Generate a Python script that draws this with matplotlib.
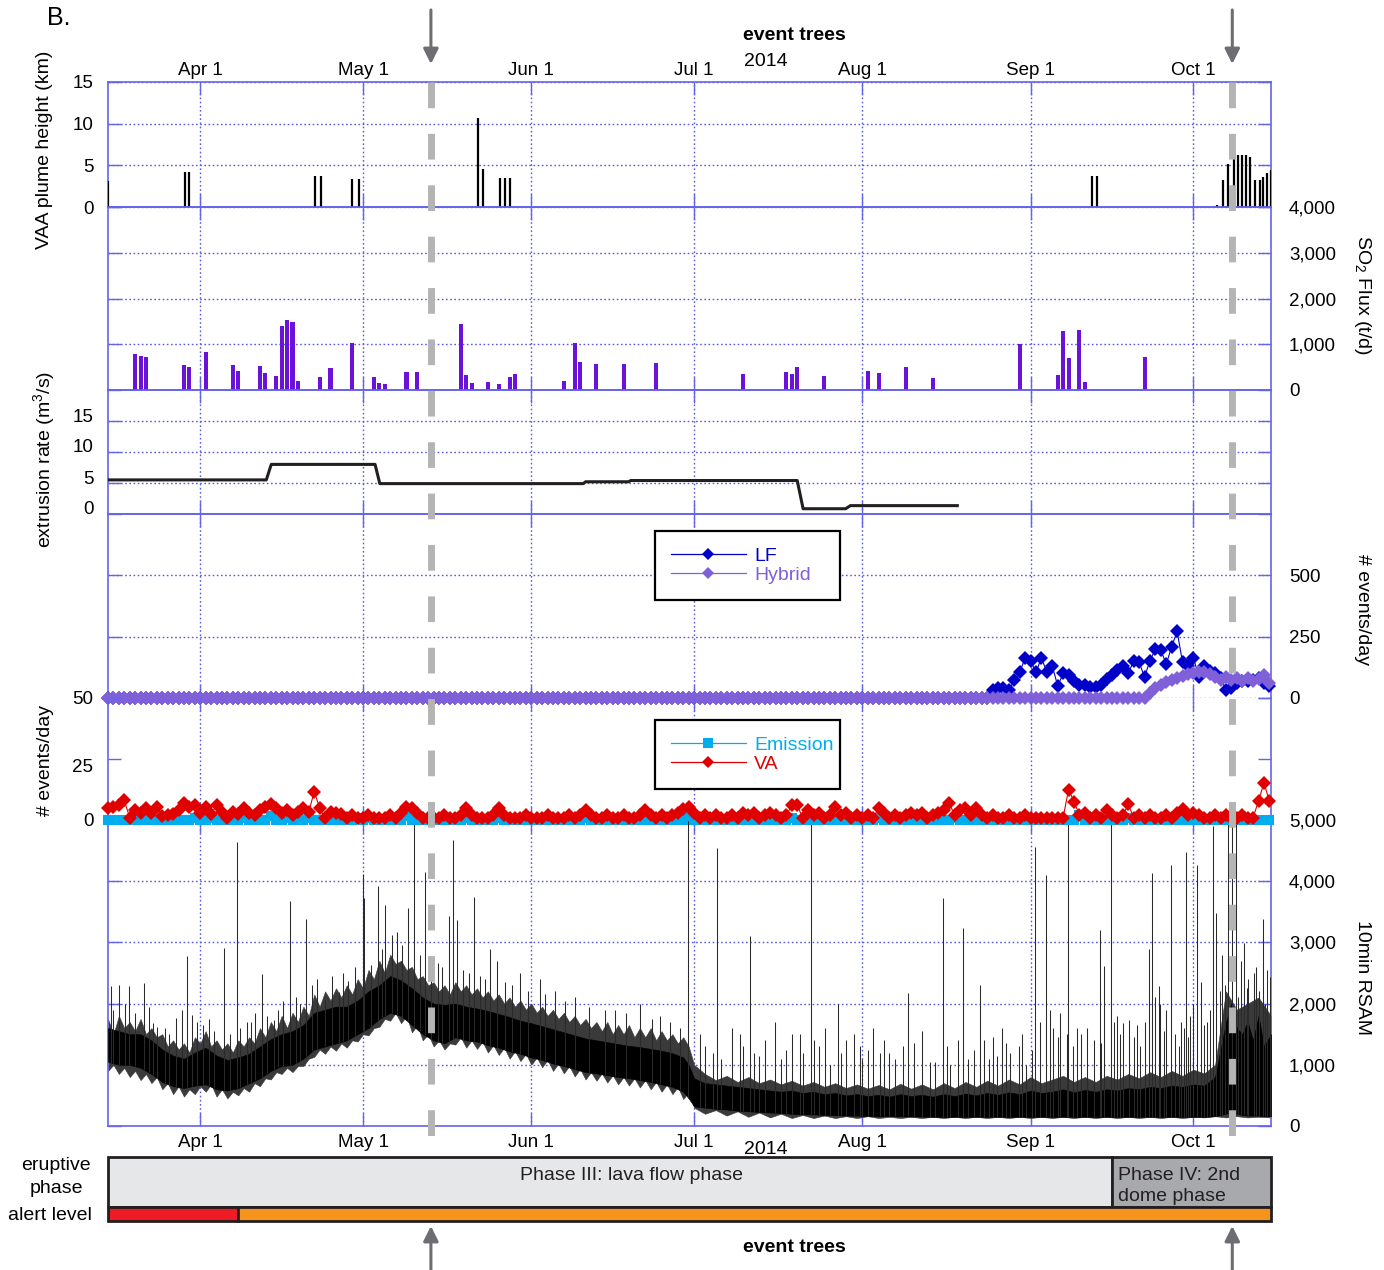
import matplotlib
matplotlib.use("Agg")
import matplotlib.pyplot as plt
import matplotlib.dates as mdates
import matplotlib.transforms as mtrans
from matplotlib.lines import Line2D
from matplotlib.patches import Rectangle
from matplotlib.ticker import FuncFormatter
import numpy as np
import pandas as pd

plt.rcParams["font.family"] = ["Liberation Sans", "DejaVu Sans"]
plt.rcParams["mathtext.fontset"] = "custom"
plt.rcParams["mathtext.rm"] = "Liberation Sans"

# ---------------------------------------------------------------- data
START = "2014-03-15"
N_DAYS = 215

# VAA plume heights (km)
vaa_times = ["2014-03-15 02:00", "2014-03-29 05:00", "2014-03-29 23:00",
             "2014-04-22 02:00", "2014-04-23 07:00", "2014-04-29 00:00",
             "2014-04-30 05:00", "2014-05-22 05:00", "2014-05-23 02:00",
             "2014-05-26 07:00", "2014-05-27 05:00", "2014-05-28 02:00",
             "2014-09-12 07:00", "2014-09-13 05:00", "2014-10-05 10:00",
             "2014-10-06 10:00", "2014-10-07 07:00", "2014-10-08 10:00",
             "2014-10-09 05:00", "2014-10-10 00:00", "2014-10-10 17:00",
             "2014-10-11 12:00", "2014-10-12 10:00", "2014-10-13 05:00",
             "2014-10-13 19:00", "2014-10-14 14:00", "2014-10-15 05:00"]
vaa_km = [3.1, 4.2, 4.2, 3.7, 3.7, 3.4, 3.4, 10.7, 4.6, 3.5, 3.5, 3.5,
          3.7, 3.7, 0.2, 3.2, 5.2, 6.1, 6.2, 6.2, 6.2, 6.0, 3.2, 3.2,
          3.6, 4.1, 4.4]

# SO2 flux (t/d)
so2_dates = ["03-20", "03-21", "03-22", "03-29", "03-30", "04-02", "04-07",
             "04-08", "04-12", "04-13", "04-15", "04-16", "04-17", "04-18",
             "04-19", "04-23", "04-25", "04-29", "05-03", "05-04", "05-05",
             "05-09", "05-11", "05-19", "05-20", "05-21", "05-24", "05-26",
             "05-28", "05-29", "06-07", "06-09", "06-10", "06-13", "06-18",
             "06-24", "07-10", "07-18", "07-19", "07-20", "07-25", "08-02",
             "08-04", "08-09", "08-14", "08-30", "09-06", "09-07", "09-08",
             "09-10", "09-11", "09-22"]
so2_flux = [787, 750, 728, 546, 496, 838, 540, 422, 525, 364, 313, 1399,
            1530, 1494, 204, 291, 481, 1020, 277, 153, 131, 386, 386, 1449,
            333, 145, 181, 123, 275, 348, 188, 1022, 609, 558, 558, 587,
            355, 391, 348, 493, 304, 420, 370, 500, 254, 998, 328, 1290,
            692, 1311, 182, 714]

# extrusion rate (m3/s)
extr_times = ["2014-03-15", "2014-04-13 04:00", "2014-04-14 02:00",
              "2014-05-03 05:00", "2014-05-04 02:00", "2014-06-10 14:00",
              "2014-06-11 00:00", "2014-06-18 22:00", "2014-06-19 08:00",
              "2014-07-20 00:00", "2014-07-21 02:00", "2014-07-28 22:00",
              "2014-07-29 19:00", "2014-08-18 12:00"]
extr_rate = [5.5, 5.5, 8.0, 8.0, 4.9, 4.9, 5.2, 5.2, 5.4, 5.4, 0.85, 0.85,
             1.35, 1.35]

# LF / Hybrid events per day (daily from START)
lf_tail = [34, 41, 41, 34, 72, 104, 165, 152, 104, 165, 104, 131, 49, 100,
           94, 70, 53, 53, 45, 45,
           53, 77, 94, 113, 131, 100, 152, 145, 86, 152, 200, 195, 138, 209,
           272, 145, 131, 165, 86, 131, 110, 100, 80, 34, 41, 60, 70, 70,
           75, 80, 60, 50]
lf_daily = [0] * (N_DAYS - len(lf_tail)) + lf_tail
hybrid_tail = [0, 20, 40, 55, 66, 74, 80, 88, 96, 102, 104, 104, 97, 84,
               72, 84, 72, 80, 70, 80, 70, 78, 92, 60]
hybrid_daily = [0] * (N_DAYS - len(hybrid_tail)) + hybrid_tail

# VA events per day (daily from START)
va_daily = [4.8, 5.5, 6, 8, 1, 4, 3, 5, 3, 5.5, 1.5, 2, 2.3, 4, 7, 5.5, 6,
            3, 5.5, 2.3, 6, 3.4, 1, 3.4, 2.3, 4.8, 3, 2, 4, 5.5, 6.4, 4.8,
            3, 4, 2, 3.4, 4.8, 3.4, 11.6, 5, 0.7, 3.4, 3, 2.3,
            1, 2, 1, 1, 2, 1, 1, 1, 2, 1,
            3, 5.5, 5, 3, 1, 1, 1, 1, 2, 1,
            1, 2, 4.8, 2, 1, 1, 1, 2, 4.8, 2,
            1, 1, 1, 2, 1, 1, 1, 2, 1, 1,
            1, 2, 1, 2, 4, 2, 1, 1, 2, 1,
            1, 2, 1, 1, 2, 4, 2, 1, 2, 1,
            2, 3, 4.5, 5.5, 3, 1, 2, 1, 2, 1,
            1, 2, 1, 3, 2, 3, 1, 2, 3, 2,
            1, 2, 6, 6, 1, 4, 2, 3, 1, 2,
            5.5, 2, 3, 1, 2, 1, 2, 1, 4.8, 3,
            1, 2, 1, 2, 3, 2, 3, 1, 2, 3,
            4, 7, 2, 4, 5, 2, 5, 2, 1, 2,
            1, 1, 2, 1, 1, 2, 1, 1, 1, 1,
            1, 1, 1, 12.5, 7.5, 2, 3, 1, 2, 1,
            4, 2, 1, 2, 6.4, 1, 2, 1, 2, 1,
            1, 2, 1, 3, 4.4, 2, 3, 2, 1, 1,
            2, 1, 2, 1, 1, 2, 1, 1, 7.8, 15.2, 7.8]

# Emission events per day: zero except these days
emission_days = [16, 19, 25, 30, 33, 35, 37, 46, 48, 55, 66, 72, 88, 107,
                 126, 142, 156, 179, 188, 199]
emission_vals = [1, 1, 1, 1.5, 1, 1, 1, 1, 1, 1.5, 1, 1, 1, 1.5, 1, 1, 1,
                 2, 1, 1]

# 10-min RSAM: dense core of the band (day offset from START)
rsam_day = [0, 2, 4, 6, 8, 10, 12, 14, 16, 18, 20, 22, 24, 26, 28, 30, 32,
            34, 36, 38, 40, 42, 44, 46, 48, 50, 52, 54, 56, 58, 60, 62, 64,
            66, 68, 70, 72, 74, 76, 78, 80, 82, 84, 86, 88, 90, 92, 94, 96,
            98, 100, 102, 104, 106, 107, 108, 110, 112, 114, 116, 118, 120,
            122, 124, 126, 128, 130, 132, 134, 136, 138, 140, 142, 144, 146,
            148, 150, 152, 154, 156, 158, 160, 162, 164, 166, 168, 170, 172,
            174, 176, 178, 180, 182, 184, 186, 188, 190, 192, 194, 196, 198,
            200, 202, 204, 206, 207, 208, 209, 210, 211, 212, 213, 214.3]
rsam_lo = [1050, 1000, 1000, 950, 850, 720, 650, 620, 660, 680, 600, 580,
           620, 700, 780, 900, 980, 1000, 1100, 1250, 1300, 1350, 1400, 1500,
           1600, 1750, 1850, 1800, 1650, 1500, 1400, 1350, 1450, 1400, 1380,
           1320, 1280, 1220, 1180, 1120, 1080, 1020, 980, 930, 880, 860, 830,
           800, 780, 750, 720, 680, 640, 560, 450, 320, 300, 280, 270, 250,
           240, 230, 220, 210, 200, 190, 190, 180, 180, 170, 170, 165, 160,
           160, 160, 155, 155, 150, 150, 150, 150, 150, 150, 150, 150, 150,
           150, 150, 150, 150, 150, 150, 150, 150, 150, 150, 150, 150, 150,
           150, 150, 150, 150, 160, 200, 250, 200, 180, 170, 170, 170, 160,
           160]
rsam_hi = [1600, 1550, 1500, 1500, 1400, 1250, 1150, 1100, 1200, 1280,
           1150, 1080, 1120, 1180, 1300, 1420, 1500, 1550, 1650, 1850, 1900,
           1950, 1950, 2050, 2200, 2300, 2450, 2380, 2250, 2100, 2000, 1980,
           2000, 1950, 1920, 1880, 1830, 1780, 1720, 1680, 1630, 1580, 1530,
           1480, 1430, 1400, 1370, 1340, 1310, 1290, 1260, 1230, 1190, 1120,
           1000, 780,
           700, 680, 660, 640, 620, 600, 580, 560, 580, 540,
           560, 520, 540, 500, 520, 490, 510, 480, 520, 490,
           510, 480, 520, 490, 530, 500, 540, 510, 550, 520,
           580, 540, 560, 600, 550, 590, 560, 600, 580, 620,
           600, 640, 620, 660, 640, 680, 660, 800,
           1700, 2000, 1600, 1500, 1700, 1400, 1800, 1300, 1500]

# RSAM ragged outer fringe of the band
fringe_day = list(range(0, 109)) + list(range(110, 214, 2)) + [214.3]
fringe_hi = [1750, 1500, 1800, 1600, 1700, 1550, 1750, 1500, 1600, 1450,
             1500, 1300, 1400, 1250, 1350, 1200, 1450, 1350, 1550, 1300,
             1400, 1250, 1350, 1200, 1400, 1300, 1450, 1350, 1600, 1450,
             1700, 1550, 1800, 1600, 1850, 1700, 1950, 1800, 2150, 1950,
             2200, 2050, 2250, 2100, 2300, 2150, 2400, 2250, 2550, 2400,
             2700, 2500, 2800, 2650, 2700, 2550, 2600, 2400, 2450, 2300,
             2350, 2200, 2300, 2150, 2350, 2200, 2300, 2150, 2250, 2100,
             2200, 2050, 2150, 2000, 2100, 1950, 2050, 1900, 2000, 1850,
             1950, 1800, 1900, 1750, 1850, 1700, 1800, 1650, 1750, 1600,
             1700, 1550, 1700, 1500, 1650, 1500, 1650, 1450, 1600, 1450,
             1600, 1400, 1550, 1400, 1500, 1350, 1450, 1300, 1000,
             850, 750, 820, 720, 800, 700, 760, 680, 740, 660,
             720, 640, 700, 620, 680, 610, 670, 600, 690, 610,
             680, 600, 700, 620, 720, 640, 740, 660, 760, 680,
             800, 700, 760, 820, 720, 800, 720, 820, 760, 850,
             780, 880, 800, 900, 820, 920, 860, 1000,
             2200, 1900, 2000, 2100, 1800]
fringe_lo = [900, 1000, 850, 950, 800, 900, 750, 850, 700, 800, 600, 700,
             520, 650, 480, 600, 520, 650, 560, 680, 480, 600, 450, 560, 500,
             620, 560, 700, 650, 780, 760, 880, 850, 950, 880, 980, 980, 1100,
             1130, 1250, 1180, 1300, 1230, 1350, 1280, 1400, 1380, 1500, 1480,
             1600, 1620, 1750, 1720, 1850, 1680, 1800, 1530, 1650, 1400, 1500,
             1300, 1400, 1250, 1350, 1330, 1450, 1280, 1400, 1260, 1380, 1200,
             1320, 1160, 1280, 1100, 1220, 1060, 1180, 1000, 1120, 960, 1080,
             900, 1020, 860, 980, 810, 930, 760, 880, 740, 860, 710, 830, 680,
             800, 660, 780, 630, 750, 600, 720, 560, 680, 520, 640, 440, 560,
             300,
             200, 260, 170, 240, 150, 220, 140, 200, 130, 180, 130, 170, 130,
             160, 130, 160, 130, 150, 130, 150, 130, 150, 130, 150, 130, 150,
             130, 150, 130, 150, 130, 150, 130, 150, 130, 150, 130, 150, 130,
             150, 130, 150, 130, 150, 130, 150, 140, 160, 140, 160, 140, 150,
             140]

# RSAM spikes (day offset, value)
spike_day = [0.55, 2.0, 3.9, 6.7, 8.2, 9.1, 12.5, 13.7, 14.6, 15.4, 16.4,
             21.3, 23.7, 25.6, 27.1, 28.4, 30.5, 33.5, 36.5, 40.0, 42.5,
             44.2, 46.9, 47.2, 48.5, 49.7, 51.1, 52.4, 53.3, 55.2, 56.3,
             56.4, 58.4, 60.8, 62.9, 63.5, 64.3, 67.5, 70.4, 71.7, 75.9,
             79.6, 82.4, 86.1, 91.6, 98.1, 101.8, 106.9, 109.1, 110, 112.3,
             113, 115, 116.5, 118.3, 119, 121, 122.9, 124, 126, 127.6, 128,
             129.6, 131, 132.2, 133, 134.6, 136, 138.6, 139, 141, 142.3, 144,
             146.5, 147.5, 151.5, 152.4, 153.8, 155.2, 156.7, 157.6, 158.5,
             160.6, 161.5, 162.4, 163.8, 164.7, 166.2, 167.8, 169.2, 170.9,
             171.8, 172.8, 173.6, 174.2, 175.5, 176.7, 176.9, 177.9, 179.2,
             180.4, 181.6, 182.7, 183.6, 184.8, 185.3, 185.9, 187.0, 188.2,
             189.0, 190.2, 191.1, 191.8, 192.3, 193.0, 193.7, 193.9, 195.0,
             195.8, 196.7, 197.3, 198.2, 198.7, 199.4, 200.0, 200.7, 201.4,
             202.5, 203.7, 204.2, 204.9, 205.3, 206.3, 207.2, 207.9, 208.7,
             209.3, 210.1, 211.1, 212.0, 212.8, 213.6, 214.1,
             1, 3.2, 5, 7.5, 10.5, 11.3, 17.5, 18.6, 19.5, 22.4, 24.3, 26.4,
             29.3, 31.4, 32.3, 34.6, 35.4, 37.6, 38.5, 41.2, 43.3, 45.5, 50.4,
             54.2, 57.4, 59.5, 61.5, 65.5, 66.6, 68.6, 69.5, 73.2, 74.5, 77.3,
             80.5, 84.3, 88.6, 93.4, 95.5, 100.3, 103.6, 105.4,
             111.5, 117, 120, 125, 130, 135, 137.5, 140, 143, 145, 148.5, 150,
             154.6, 159.5, 163, 165.5, 168.5, 170.2, 175, 178.5, 183, 186.5,
             189.6, 194.5, 197.8, 199, 202, 203, 205.8, 208.3, 209.8, 211.6,
             213.2]
spike_val = [2290, 2300, 2280, 2330, 1680, 1620, 1760, 1900, 2780, 1810,
             1700, 2910, 4640, 1700, 1850, 2490, 1730, 3670, 3390, 2060, 2190,
             2370, 4110, 3720, 2630, 3920, 3610, 3120, 3170, 3560, 4950, 2600,
             4150, 2660, 3430, 4670, 3370, 3750, 2900, 2700, 2500, 2400, 2200,
             2100, 1900, 2000, 1800, 5000, 1500, 1300, 4550, 1100, 1600, 1500,
             3100, 1200, 1400, 1700, 1100, 1500, 1500, 1200, 5000, 1300, 1600,
             1000, 2000, 1400, 1300, 1100, 1600, 1200, 1200, 1300, 2180, 1050,
             1050, 3720, 1000, 1400, 3230, 1100, 2300, 1400, 1100, 1150, 1600,
             1200, 1310, 1000, 4560, 1700, 4100, 1900, 1600, 1840, 1500, 5000,
             1300, 1500, 1600, 1400, 3200, 2620, 5000, 1700, 1800, 1680, 1730,
             1450, 1300, 1700, 2890, 4140, 2100, 2280, 2000, 1900, 4260, 1500,
             1300, 1600, 4470, 1800, 2000, 4260, 2360, 1700, 4900, 3480, 2200,
             2800, 5000, 5000, 5000, 2700, 2990, 2400, 2500, 2200, 3380, 2550,
             2440,
             1900, 2000, 1850, 1950, 1600, 1500, 1650, 1750, 1550, 1500, 1600,
             1700, 1800, 1900, 2050, 2100, 2000, 2300, 2400, 2450, 2500, 2600,
             2900, 2950, 2800, 2700, 2600, 2550, 2500, 2450, 2400, 2350, 2300,
             2200, 2150, 2050, 1950, 1900, 1850, 1750, 1700, 1600,
             1200, 1300, 1150, 1250, 1400, 1200, 1500, 1250, 1400, 1100, 1350,
             1550, 1300, 1250, 1450, 1350, 1500, 1250, 1450, 1600, 1350, 1500,
             1650, 1550, 1700, 1450, 1650, 1900, 2300, 2100, 2250, 2600, 2000]

event_tree_times = ["2014-05-13 12:00", "2014-10-08 04:00"]

phase_labels = ["Phase III: lava flow phase", "Phase IV: 2nd\ndome phase"]
phase_starts = ["2014-03-15", "2014-09-16"]
phase_colors = ["#e6e7e8", "#a7a9ac"]
alert_starts = ["2014-03-15", "2014-04-08"]
alert_colors = ["#ed1c24", "#f7941d"]

# ---------------------------------------------------------------- setup
W, H = 1384, 1270
L, R = 108, 1271
BLUE = "#6464ea"
GRID = "#5a5ae8"
EDGE = "#231f20"
FS = 14
TFS = 13.5

t0 = mdates.date2num(pd.Timestamp(START))
x_lo, x_hi = t0, t0 + 214.3
days = t0 + np.arange(N_DAYS)


def tnum(s):
    return mdates.date2num(pd.to_datetime(s))


def fx(px):
    return px / W


def fy(py):
    return 1 - py / H


fig = plt.figure(figsize=(W / 100, H / 100), dpi=100, facecolor="white")


def panel(top, bot, ylim, yticks, side, ygrid=True, top_sp=True, bot_sp=True,
          fmt=None):
    ax = fig.add_axes([fx(L), fy(bot), (R - L) / W, (bot - top) / H])
    ax.set_xlim(x_lo, x_hi)
    ax.set_ylim(*ylim)
    ax.set_yticks(yticks)
    ax.xaxis.set_major_locator(mdates.MonthLocator())
    ax.xaxis.set_major_formatter(mdates.DateFormatter("%b 1"))
    ax.tick_params(direction="in", length=9.5, width=1.0, color=BLUE,
                   labelsize=TFS, top=True, bottom=True, left=True, right=True,
                   labelbottom=False, labeltop=False,
                   labelleft=(side == "left"), labelright=(side == "right"))
    ax.tick_params(axis="y", pad=10.5 if side == "left" else 13)
    ax.grid(axis="x", color=GRID, lw=1.0, ls=(0, (1.2, 1.8)))
    if ygrid:
        ax.grid(axis="y", color=GRID, lw=1.0, ls=(0, (1.2, 1.8)))
    ax.set_axisbelow(True)
    for s in ax.spines.values():
        s.set_color(BLUE)
        s.set_linewidth(1.2)
    ax.spines["top"].set_visible(top_sp)
    ax.spines["bottom"].set_visible(bot_sp)
    ax.patch.set_visible(False)
    if fmt is not None:
        ax.yaxis.set_major_formatter(fmt)
    return ax


comma = FuncFormatter(lambda v, p: f"{int(v):,}")

ax_vaa = panel(82, 207, (0, 15), [0, 5, 10, 15], "left")
ax_so2 = panel(207, 390, (0, 4000), [0, 1000, 2000, 3000, 4000], "right",
               fmt=comma)
ax_ext = panel(390, 514, (0, 20), [0, 5, 10, 15], "left")
ax_lf = panel(514, 698, (0, 750), [0, 250, 500], "right", bot_sp=False)
ax_rsam = panel(820, 1126, (0, 5000), [0, 1000, 2000, 3000, 4000, 5000],
                "right", fmt=comma)
ax_va = panel(698, 820, (0, 50), [0, 25, 50], "left", ygrid=False,
              top_sp=False, bot_sp=False)
ax_lf.set_zorder(4)
ax_va.set_zorder(5)

ax_vaa.tick_params(axis="x", labeltop=True, pad=2)
ax_rsam.tick_params(axis="x", labelbottom=True, pad=6)

# extrusion tick labels sit a little above their grid lines,
# the middle VA label a little below its tick
lift = mtrans.ScaledTranslation(0, 0.06, fig.dpi_scale_trans)
for lab in ax_ext.get_yticklabels():
    lab.set_transform(lab.get_transform() + lift)
drop = mtrans.ScaledTranslation(0, -0.07, fig.dpi_scale_trans)
mid = ax_va.get_yticklabels()[1]
mid.set_transform(mid.get_transform() + drop)

# VAA plume heights
ax_vaa.vlines([tnum(t) for t in vaa_times], 0, vaa_km, color="black",
              lw=1.6, zorder=3)

# SO2 flux
ax_so2.bar([tnum("2014-" + d) for d in so2_dates], so2_flux, width=0.75,
           color="#6a12d8", zorder=3)

# extrusion rate
ax_ext.plot([tnum(t) for t in extr_times], extr_rate, color=EDGE, lw=2.2,
            zorder=3)

# LF / hybrid
LF_C, HY_C = "#0000c8", "#8060d8"
MS = 7.2
ax_lf.plot(days, lf_daily, color=LF_C, lw=0.8, marker="D", ms=MS, mew=0,
           clip_on=False, zorder=3)
ax_lf.plot(days, hybrid_daily, color=HY_C, lw=0.8, marker="D", ms=MS, mew=0,
           clip_on=False, zorder=4)

# emission / VA
EM_C, VA_C = "#00aeef", "#e00000"
emission_daily = np.zeros(N_DAYS)
emission_daily[emission_days] = emission_vals
ax_va.plot(days, emission_daily, color=EM_C, lw=1.0, marker="s", ms=7,
           mew=0, clip_on=False, zorder=3)
ax_va.plot(days, va_daily, color=VA_C, lw=0.8, marker="D", ms=MS, mew=0,
           clip_on=False, zorder=4)

# RSAM
fd = t0 + np.array(fringe_day, dtype=float)
ax_rsam.fill_between(fd, fringe_lo, fringe_hi, color="#3a3a3a", lw=0.4,
                     zorder=2.5)
rd = t0 + np.array(rsam_day)
ax_rsam.fill_between(rd, rsam_lo, rsam_hi, color="black", lw=0.4, zorder=3)
sd = np.array(spike_day)
ax_rsam.vlines(t0 + sd, np.interp(sd, rsam_day, rsam_lo), spike_val,
               color="#2a2a2a", lw=0.75, zorder=3)

# legends
leg_kw = dict(loc="center", mode="expand", fontsize=FS, frameon=True,
              fancybox=False, framealpha=1, edgecolor="black",
              borderpad=0.8, handlelength=3.9, handletextpad=0.4,
              labelspacing=0.1, borderaxespad=0, labelcolor="linecolor")
leg1 = fig.legend(handles=[
    Line2D([], [], color=LF_C, lw=0.9, marker="D", ms=6.5, mew=0, label="LF"),
    Line2D([], [], color=HY_C, lw=0.9, marker="D", ms=6.5, mew=0,
           label="Hybrid")],
    bbox_to_anchor=(fx(655), fy(603), 185 / W, 75 / H), **leg_kw)
leg1.get_frame().set_linewidth(1.6)
leg2 = fig.legend(handles=[
    Line2D([], [], color=EM_C, lw=0.9, marker="s", ms=6.5, mew=0,
           label="Emission"),
    Line2D([], [], color=VA_C, lw=0.9, marker="D", ms=6.5, mew=0,
           label="VA")],
    bbox_to_anchor=(fx(655), fy(793), 185 / W, 77 / H), **leg_kw)
leg2.get_frame().set_linewidth(1.6)

# event-tree markers (overlay in pixel y units)
ov = fig.add_axes([fx(L), 0, (R - L) / W, 1])
ov.set_xlim(x_lo, x_hi)
ov.set_ylim(H, 0)
ov.axis("off")
ov.set_zorder(10)
arrow = dict(arrowstyle="-|>,head_length=0.9,head_width=0.45",
             color="#6d6e71", lw=2.2, shrinkA=0, shrinkB=0)
for t in event_tree_times:
    x = tnum(t)
    ov.plot([x, x], [82, 1140], color="#b4b4b4", lw=5, dashes=(3.7, 3.7),
            dash_capstyle="butt", solid_capstyle="butt")
    ov.annotate("", xy=(x, 64), xytext=(x, 10), annotation_clip=False,
                arrowprops=arrow)
    ov.annotate("", xy=(x, 1226), xytext=(x, 1270), annotation_clip=False,
                arrowprops=arrow)

# phase / alert bars
pb = fig.add_axes([fx(L), fy(1221), (R - L) / W, 64 / H])
pb.set_xlim(x_lo, x_hi)
pb.set_ylim(0, 64)
pb.axis("off")
p_edges = [tnum(s) for s in phase_starts] + [x_hi]
for i, c in enumerate(phase_colors):
    pb.add_patch(Rectangle((p_edges[i], 14), p_edges[i + 1] - p_edges[i], 50,
                           fc=c, ec=EDGE, lw=2, clip_on=False))
a_edges = [tnum(s) for s in alert_starts] + [x_hi]
for i, c in enumerate(alert_colors):
    pb.add_patch(Rectangle((a_edges[i], 0), a_edges[i + 1] - a_edges[i], 14,
                           fc=c, ec=EDGE, lw=2, clip_on=False))

fig.text(fx(632), fy(1175), phase_labels[0], ha="center", va="center",
         fontsize=FS, color=EDGE)
fig.text(fx(1118), fy(1186), phase_labels[1], ha="left", va="center",
         fontsize=FS, color=EDGE, linespacing=1.35)
fig.text(fx(56), fy(1177), "eruptive\nphase", ha="center", va="center",
         fontsize=FS, linespacing=1.4)
fig.text(fx(50), fy(1216), "alert level", ha="center", va="center",
         fontsize=FS)

# titles and axis labels
fig.text(fx(47), fy(18), "B.", fontsize=18, va="center", ha="left")
fig.text(fx(794), fy(36), "event trees", fontsize=FS, fontweight="bold",
         ha="center", va="center")
fig.text(fx(794), fy(1247), "event trees", fontsize=FS, fontweight="bold",
         ha="center", va="center")
fig.text(fx(766), fy(62), "2014", fontsize=FS, ha="center", va="center")
fig.text(fx(766), fy(1149), "2014", fontsize=FS, ha="center", va="center")

fig.text(fx(45), fy(150), "VAA plume height (km)", rotation=90, fontsize=FS,
         ha="center", va="center")
fig.text(fx(45), fy(459), "extrusion rate (m$^\\mathregular{3}$/s)",
         rotation=90, fontsize=FS, ha="center", va="center")
fig.text(fx(45), fy(760), "# events/day", rotation=90, fontsize=FS,
         ha="center", va="center")
fig.text(fx(1362), fy(295), "SO$_\\mathregular{2}$ Flux (t/d)", rotation=270,
         fontsize=FS, ha="center", va="center")
fig.text(fx(1362), fy(610), "# events/day", rotation=270, fontsize=FS,
         ha="center", va="center")
fig.text(fx(1362), fy(978), "10min RSAM", rotation=270, fontsize=FS,
         ha="center", va="center")

fig.savefig("out.png", dpi=100, facecolor="white")
